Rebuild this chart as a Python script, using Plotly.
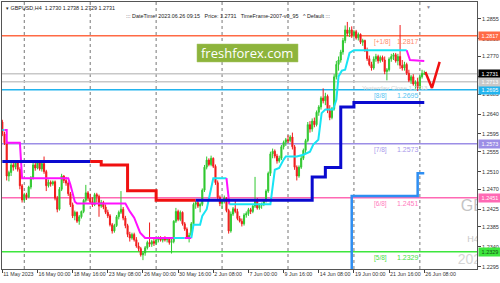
import plotly.graph_objects as go

# ---------------- data (GBPUSD H4, bar index 0 = 11 May 2023 08:00) ----------------
bar_open = [
    1.2622, 1.2595, 1.2575, 1.2500, 1.2508, 1.2525, 1.2520, 1.2530, 1.2515, 1.2478,
    1.2446, 1.2458, 1.2452, 1.2475, 1.2496, 1.2525, 1.2518, 1.2530, 1.2516, 1.2528,
    1.2510, 1.2478, 1.2486, 1.2482, 1.2487, 1.2450, 1.2425, 1.2470, 1.2500, 1.2490,
    1.2484, 1.2460, 1.2435, 1.2410, 1.2418, 1.2398, 1.2408, 1.2420, 1.2445, 1.2462,
    1.2450, 1.2442, 1.2435, 1.2458, 1.2454, 1.2432, 1.2440, 1.2430, 1.2418, 1.2410,
    1.2390, 1.2376, 1.2388, 1.2408, 1.2418, 1.2425, 1.2405, 1.2388, 1.2368, 1.2360,
    1.2368, 1.2356, 1.2342, 1.2336, 1.2322, 1.2326, 1.2338, 1.2350, 1.2346, 1.2352,
    1.2348, 1.2356, 1.2360, 1.2355, 1.2358, 1.2356, 1.2360, 1.2350, 1.2352, 1.2398,
    1.2420, 1.2402, 1.2418, 1.2392, 1.2380, 1.2362, 1.2366, 1.2392, 1.2436, 1.2440,
    1.2432, 1.2436, 1.2468, 1.2520, 1.2536, 1.2526, 1.2540, 1.2522, 1.2485, 1.2452,
    1.2438, 1.2444, 1.2450, 1.2422, 1.2376, 1.2414, 1.2426, 1.2420, 1.2404, 1.2398,
    1.2392, 1.2412, 1.2415, 1.2424, 1.2420, 1.2432, 1.2446, 1.2428, 1.2434, 1.2436,
    1.2446, 1.2466, 1.2506, 1.2550, 1.2556, 1.2545, 1.2534, 1.2540, 1.2566, 1.2576,
    1.2582, 1.2580, 1.2588, 1.2566, 1.2520, 1.2500, 1.2520, 1.2540, 1.2558, 1.2580,
    1.2616, 1.2606, 1.2624, 1.2616, 1.2644, 1.2656, 1.2676, 1.2670, 1.2680, 1.2648,
    1.2632, 1.2652, 1.2724, 1.2752, 1.2762, 1.2780, 1.2806, 1.2830, 1.2822, 1.2830,
    1.2818, 1.2826, 1.2812, 1.2820, 1.2802, 1.2806, 1.2784, 1.2765, 1.2752, 1.2744,
    1.2764, 1.2770, 1.2760, 1.2768, 1.2762, 1.2736, 1.2740, 1.2764, 1.2770, 1.2774,
    1.2760, 1.2770, 1.2750, 1.2744, 1.2752, 1.2732, 1.2716, 1.2724, 1.2708, 1.2712,
    1.2700, 1.2724, 1.2730,
]
bar_high = [
    1.2627, 1.2600, 1.2580, 1.2512, 1.2530, 1.2532, 1.2535, 1.2534, 1.2520, 1.2482,
    1.2462, 1.2462, 1.2478, 1.2500, 1.2530, 1.2532, 1.2534, 1.2533, 1.2532, 1.2544,
    1.2514, 1.2492, 1.2490, 1.2490, 1.2490, 1.2455, 1.2475, 1.2505, 1.2502, 1.2498,
    1.2488, 1.2464, 1.2440, 1.2422, 1.2420, 1.2412, 1.2422, 1.2448, 1.2480, 1.2466,
    1.2460, 1.2452, 1.2462, 1.2462, 1.2458, 1.2446, 1.2444, 1.2436, 1.2424, 1.2414,
    1.2394, 1.2392, 1.2412, 1.2422, 1.2466, 1.2430, 1.2410, 1.2392, 1.2374, 1.2372,
    1.2372, 1.2362, 1.2350, 1.2340, 1.2330, 1.2342, 1.2354, 1.2395, 1.2356, 1.2358,
    1.2360, 1.2364, 1.2364, 1.2360, 1.2364, 1.2362, 1.2362, 1.2358, 1.2400, 1.2428,
    1.2424, 1.2422, 1.2420, 1.2396, 1.2384, 1.2372, 1.2396, 1.2440, 1.2444, 1.2444,
    1.2440, 1.2472, 1.2525, 1.2544, 1.2540, 1.2546, 1.2542, 1.2526, 1.2490, 1.2456,
    1.2448, 1.2456, 1.2452, 1.2426, 1.2420, 1.2430, 1.2444, 1.2426, 1.2410, 1.2404,
    1.2416, 1.2420, 1.2428, 1.2428, 1.2436, 1.2498, 1.2450, 1.2438, 1.2440, 1.2448,
    1.2470, 1.2510, 1.2555, 1.2562, 1.2560, 1.2550, 1.2546, 1.2570, 1.2580, 1.2586,
    1.2592, 1.2592, 1.2598, 1.2570, 1.2524, 1.2524, 1.2546, 1.2562, 1.2584, 1.2622,
    1.2624, 1.2630, 1.2632, 1.2648, 1.2660, 1.2680, 1.2698, 1.2688, 1.2684, 1.2660,
    1.2656, 1.2730, 1.2760, 1.2770, 1.2785, 1.2812, 1.2840, 1.2848, 1.2836, 1.2838,
    1.2830, 1.2830, 1.2824, 1.2822, 1.2810, 1.2808, 1.2790, 1.2772, 1.2758, 1.2770,
    1.2776, 1.2774, 1.2772, 1.2772, 1.2770, 1.2744, 1.2768, 1.2776, 1.2778, 1.2778,
    1.2776, 1.2841, 1.2762, 1.2758, 1.2756, 1.2740, 1.2728, 1.2730, 1.2716, 1.2722,
    1.2728, 1.2740, 1.2738,
]
bar_low = [
    1.2590, 1.2570, 1.2490, 1.2488, 1.2500, 1.2512, 1.2515, 1.2510, 1.2470, 1.2440,
    1.2442, 1.2446, 1.2450, 1.2470, 1.2492, 1.2512, 1.2515, 1.2512, 1.2510, 1.2505,
    1.2466, 1.2474, 1.2476, 1.2478, 1.2445, 1.2418, 1.2422, 1.2466, 1.2484, 1.2478,
    1.2455, 1.2430, 1.2405, 1.2400, 1.2394, 1.2390, 1.2404, 1.2416, 1.2440, 1.2444,
    1.2438, 1.2430, 1.2432, 1.2440, 1.2408, 1.2428, 1.2425, 1.2414, 1.2405, 1.2386,
    1.2370, 1.2372, 1.2385, 1.2402, 1.2414, 1.2400, 1.2382, 1.2362, 1.2352, 1.2356,
    1.2352, 1.2338, 1.2330, 1.2318, 1.2310, 1.2320, 1.2334, 1.2340, 1.2340, 1.2342,
    1.2344, 1.2350, 1.2352, 1.2350, 1.2352, 1.2350, 1.2345, 1.2325, 1.2348, 1.2394,
    1.2398, 1.2398, 1.2388, 1.2376, 1.2358, 1.2350, 1.2362, 1.2388, 1.2426, 1.2428,
    1.2418, 1.2432, 1.2464, 1.2515, 1.2522, 1.2522, 1.2518, 1.2480, 1.2448, 1.2432,
    1.2426, 1.2438, 1.2418, 1.2370, 1.2372, 1.2410, 1.2416, 1.2400, 1.2395, 1.2386,
    1.2388, 1.2406, 1.2410, 1.2414, 1.2416, 1.2428, 1.2424, 1.2424, 1.2426, 1.2432,
    1.2440, 1.2462, 1.2500, 1.2540, 1.2540, 1.2528, 1.2530, 1.2536, 1.2560, 1.2568,
    1.2574, 1.2576, 1.2560, 1.2514, 1.2490, 1.2496, 1.2516, 1.2536, 1.2552, 1.2576,
    1.2598, 1.2600, 1.2610, 1.2612, 1.2636, 1.2650, 1.2664, 1.2660, 1.2642, 1.2626,
    1.2628, 1.2648, 1.2718, 1.2738, 1.2756, 1.2774, 1.2800, 1.2816, 1.2814, 1.2812,
    1.2812, 1.2808, 1.2806, 1.2798, 1.2794, 1.2780, 1.2760, 1.2748, 1.2738, 1.2740,
    1.2758, 1.2754, 1.2756, 1.2758, 1.2730, 1.2716, 1.2736, 1.2758, 1.2762, 1.2756,
    1.2750, 1.2742, 1.2738, 1.2738, 1.2728, 1.2712, 1.2708, 1.2704, 1.2694, 1.2692,
    1.2696, 1.2720, 1.2729,
]
bar_close = [
    1.2595, 1.2575, 1.2500, 1.2508, 1.2525, 1.2520, 1.2530, 1.2515, 1.2478, 1.2446,
    1.2458, 1.2452, 1.2475, 1.2496, 1.2525, 1.2518, 1.2530, 1.2516, 1.2528, 1.2510,
    1.2478, 1.2486, 1.2482, 1.2487, 1.2450, 1.2425, 1.2470, 1.2500, 1.2490, 1.2484,
    1.2460, 1.2435, 1.2410, 1.2418, 1.2398, 1.2408, 1.2420, 1.2445, 1.2462, 1.2450,
    1.2442, 1.2435, 1.2458, 1.2454, 1.2432, 1.2440, 1.2430, 1.2418, 1.2410, 1.2390,
    1.2376, 1.2388, 1.2408, 1.2418, 1.2425, 1.2405, 1.2388, 1.2368, 1.2360, 1.2368,
    1.2356, 1.2342, 1.2336, 1.2322, 1.2326, 1.2338, 1.2350, 1.2346, 1.2352, 1.2348,
    1.2356, 1.2360, 1.2355, 1.2358, 1.2356, 1.2360, 1.2350, 1.2352, 1.2398, 1.2420,
    1.2402, 1.2418, 1.2392, 1.2380, 1.2362, 1.2366, 1.2392, 1.2436, 1.2440, 1.2432,
    1.2436, 1.2468, 1.2520, 1.2536, 1.2526, 1.2540, 1.2522, 1.2485, 1.2452, 1.2438,
    1.2444, 1.2450, 1.2422, 1.2376, 1.2414, 1.2426, 1.2420, 1.2404, 1.2398, 1.2392,
    1.2412, 1.2415, 1.2424, 1.2420, 1.2432, 1.2446, 1.2428, 1.2434, 1.2436, 1.2446,
    1.2466, 1.2506, 1.2550, 1.2556, 1.2545, 1.2534, 1.2540, 1.2566, 1.2576, 1.2582,
    1.2580, 1.2588, 1.2566, 1.2520, 1.2500, 1.2520, 1.2540, 1.2558, 1.2580, 1.2616,
    1.2606, 1.2624, 1.2616, 1.2644, 1.2656, 1.2676, 1.2670, 1.2680, 1.2648, 1.2632,
    1.2652, 1.2724, 1.2752, 1.2762, 1.2780, 1.2806, 1.2830, 1.2822, 1.2830, 1.2818,
    1.2826, 1.2812, 1.2820, 1.2802, 1.2806, 1.2784, 1.2765, 1.2752, 1.2744, 1.2764,
    1.2770, 1.2760, 1.2768, 1.2762, 1.2736, 1.2740, 1.2764, 1.2770, 1.2774, 1.2760,
    1.2770, 1.2750, 1.2744, 1.2752, 1.2732, 1.2716, 1.2724, 1.2708, 1.2712, 1.2700,
    1.2724, 1.2732, 1.2731,
]
bar_index = list(range(len(bar_close)))

# x-axis labels (bar index -> label)
tick_bars = [0, 16, 32, 48, 64, 80, 96, 112, 128, 144, 160, 176, 192]
tick_text = ["11 May 2023", "16 May 00:00", "18 May 16:00", "23 May 08:00", "26 May 00:00",
             "30 May 16:00", "2 Jun 08:00", "7 Jun 00:00", "9 Jun 16:00", "14 Jun 08:00",
             "19 Jun 00:00", "21 Jun 16:00", "26 Jun 08:00"]
week_starts = [10, 40, 70, 100, 130, 160, 190]

# price axis labels
price_ticks = [1.2295, 1.2340, 1.2385, 1.2425, 1.2470, 1.2510, 1.2555, 1.2595,
               1.2640, 1.2685, 1.2725, 1.2770, 1.2810, 1.2855]

# Murrey math levels
level_names = ["[+1/8]", "[8/8]", "[7/8]", "[6/8]", "[5/8]"]
level_values = [1.2817, 1.2695, 1.2573, 1.2451, 1.2329]
level_colors = ["#FF6A45", "#22B4EE", "#9C8EE6", "#FF69B4", "#3DE63D"]
level_text_colors = ["#FF8A6A", "#55C4F2", "#A898EA", "#FF7CBE", "#44E044"]
level_box_text = ["white", "white", "white", "white", "#145214"]

bid_price = 1.2731
yesterday_close = 1.2713

# stepped trend line (thick): blue = up, red = down
trend_up1_x = [0, 40]
trend_up1_y = [1.2533, 1.2533]
trend_dn_x = [40, 45, 57, 70, 88]
trend_dn_y = [1.2533, 1.2525, 1.2467, 1.2445, 1.2445]
trend_up2_x = [88, 141, 147, 154, 160, 192]
trend_up2_y = [1.2445, 1.2498, 1.2519, 1.2656, 1.2666, 1.2666]

# light-blue step line
lb_x = [159, 159, 189, 189, 192]
lb_y = [1.2150, 1.2455, 1.2455, 1.2506, 1.2506]

# trailing stop line: cyan (up) / magenta (down) segments
ts_segments = [
    ("up", [0, 1], [1.2604, 1.2604]),
    ("dn", [1, 2, 2, 8, 9, 30, 31, 33, 34, 56, 58, 60, 62.7, 65, 78],
           [1.2604, 1.2604, 1.2575, 1.2575, 1.2495, 1.2495, 1.2480, 1.2442, 1.2438, 1.2438,
            1.2420, 1.2406, 1.2372, 1.2360, 1.2360]),
    ("up", [78, 83], [1.2360, 1.2360]),
    ("dn", [83, 86], [1.2360, 1.2360]),
    ("up", [86, 87, 90, 91, 93, 96, 102],
           [1.2360, 1.2390, 1.2390, 1.2410, 1.2425, 1.2495, 1.2495]),
    ("dn", [102, 103.3], [1.2495, 1.2436]),
    ("up", [103.3, 122, 124, 126, 128, 129, 134, 137, 140, 141.5, 143.8, 145.3, 147, 150.5,
            152, 153, 154.5, 156, 158, 160, 184],
           [1.2436, 1.2436, 1.2514, 1.2518, 1.2537, 1.2544, 1.2544, 1.2548, 1.2555, 1.2571,
            1.2582, 1.2642, 1.2650, 1.2650, 1.2672, 1.2725, 1.2738, 1.2740, 1.2778, 1.2784,
            1.2784]),
    ("dn", [184, 185.5, 192], [1.2784, 1.2762, 1.2760]),
]

# forecast zig-zag
fc_x = [192.5, 195.5, 199.0]
fc_y = [1.2735, 1.2699, 1.2758]

# ---------------- figure ----------------
fig = go.Figure()

fig.add_trace(go.Candlestick(
    x=bar_index, open=bar_open, high=bar_high, low=bar_low, close=bar_close,
    increasing=dict(line=dict(color="#30C830", width=1), fillcolor="#30C830"),
    decreasing=dict(line=dict(color="#F01C1C", width=1), fillcolor="#F01C1C"),
    whiskerwidth=0, showlegend=False, hoverinfo="skip"))

for kind, xs, ys in ts_segments:
    fig.add_trace(go.Scatter(x=xs, y=ys, mode="lines",
                             line=dict(color="#18E4F4" if kind == "up" else "#FF10FF", width=2),
                             showlegend=False, hoverinfo="skip"))

fig.add_trace(go.Scatter(x=lb_x, y=lb_y, mode="lines",
                         line=dict(color="#2E8EF2", width=2.5), showlegend=False, hoverinfo="skip"))

for xs, ys, col in [(trend_up1_x, trend_up1_y, "#0A0ACF"),
                    (trend_dn_x, trend_dn_y, "#F01010"),
                    (trend_up2_x, trend_up2_y, "#0A0ACF")]:
    fig.add_trace(go.Scatter(x=xs, y=ys, mode="lines", line=dict(color=col, width=3, shape="hv"),
                             showlegend=False, hoverinfo="skip"))

fig.add_trace(go.Scatter(x=fc_x, y=fc_y, mode="lines", line=dict(color="#F01010", width=2.5),
                         showlegend=False, hoverinfo="skip"))

# clipped watermark texts at lower right
fig.add_trace(go.Scatter(x=[208.6], y=[1.2430], mode="text", text=["GBPUSD"],
                         textposition="middle right", cliponaxis=True,
                         textfont=dict(size=16, color="#C4C4C4", family="Liberation Sans"),
                         showlegend=False, hoverinfo="skip"))
fig.add_trace(go.Scatter(x=[211.6], y=[1.2357], mode="text", text=["H4"],
                         textposition="middle right", cliponaxis=True,
                         textfont=dict(size=9, color="#C8C8C8", family="Liberation Sans"),
                         showlegend=False, hoverinfo="skip"))
fig.add_trace(go.Scatter(x=[207.2], y=[1.2310], mode="text", text=["2023.06.26"],
                         textposition="middle right", cliponaxis=True,
                         textfont=dict(size=14, color="#D6D6D6", family="Liberation Sans"),
                         showlegend=False, hoverinfo="skip"))

shapes = []
annotations = []

# weekly separators
for wb in week_starts:
    shapes.append(dict(type="line", xref="x", yref="paper", x0=wb, x1=wb, y0=0, y1=1,
                       line=dict(color="#777777", width=1, dash="dot"), layer="below"))

# gray lines
for pv in [bid_price, yesterday_close]:
    shapes.append(dict(type="line", xref="paper", yref="y", x0=0, x1=1, y0=pv, y1=pv,
                       line=dict(color="#C8C8C8", width=1.5), layer="below"))

# level lines and labels
for name, val, col, tcol, btxt in zip(level_names, level_values, level_colors,
                                      level_text_colors, level_box_text):
    shapes.append(dict(type="line", xref="paper", yref="y", x0=0, x1=1, y0=val, y1=val,
                       line=dict(color=col, width=1.5), layer="below"))
    annotations.append(dict(x=168.3, y=val, xref="x", yref="y", text=name, showarrow=False,
                            xanchor="left", yanchor="top", yshift=0,
                            font=dict(size=6.5, color=tcol, family="Liberation Sans")))
    annotations.append(dict(x=178.8, y=val, xref="x", yref="y", text=f"{val:.4f}",
                            showarrow=False, xanchor="left", yanchor="top", yshift=0,
                            font=dict(size=7, color=tcol, family="Liberation Sans")))
    annotations.append(dict(x=1, y=val, xref="paper", yref="y", text=f"{val:.4f}",
                            showarrow=False, xanchor="left", xshift=1, width=22, height=8,
                            bgcolor=col, borderpad=0,
                            font=dict(size=5.5, color=btxt, family="Liberation Sans")))

annotations.append(dict(x=1, y=bid_price, xref="paper", yref="y", text=f"{bid_price:.4f}",
                        showarrow=False, xanchor="left", xshift=1, width=22, height=8,
                        bgcolor="#000000", borderpad=0,
                        font=dict(size=5.5, color="white", family="Liberation Sans")))
annotations.append(dict(x=1, y=yesterday_close, xref="paper", yref="y",
                        text=f"{yesterday_close:.4f}", showarrow=False, xanchor="left",
                        xshift=1, width=22, height=8, bgcolor="#C8C8C8", borderpad=0,
                        font=dict(size=5.5, color="white", family="Liberation Sans")))
annotations.append(dict(x=162.6, y=yesterday_close, xref="x", yref="y",
                        text=f"Yesterday Close {yesterday_close:.4f}", showarrow=False,
                        xanchor="left", yanchor="top",
                        font=dict(size=6.2, color="#CFCFCF", family="Liberation Sans")))

# header texts
annotations.append(dict(x=0.004, y=0.997, xref="paper", yref="paper",
                        text="▾ GBPUSD,H4  1.2730 1.2738 1.2729 1.2731", showarrow=False,
                        xanchor="left", yanchor="top",
                        font=dict(size=5.4, color="#222222", family="Liberation Sans")))
annotations.append(dict(x=0.256, y=0.968, xref="paper", yref="paper",
                        text="::: DateTime: 2023.06.26 09:15   Price: 1.2731   TimeFrame-2007-v0_95   ^ Default :::",
                        showarrow=False, xanchor="left", yanchor="top",
                        font=dict(size=5.4, color="#222222", family="Liberation Sans")))

# freshforex logo
shapes.append(dict(type="rect", xref="paper", yref="paper", x0=0.4105, x1=0.6232,
                   y0=0.7753, y1=0.8427, fillcolor="#8DB43C",
                   line=dict(color="#A8C86A", width=0.5), layer="above"))
annotations.append(dict(x=0.5168, y=0.809, xref="paper", yref="paper", text="freshforex.com",
                        showarrow=False, xanchor="center", yanchor="middle",
                        font=dict(size=13, color="white", family="Open Sans")))

# chart shift marker
annotations.append(dict(x=0.897, y=1.0, xref="paper", yref="paper", text="▼",
                        showarrow=False, xanchor="center", yanchor="top",
                        font=dict(size=5, color="#8A8A9A")))

fig.update_layout(
    width=500, height=283,
    margin=dict(l=2, r=23, t=2, b=14),
    paper_bgcolor="white", plot_bgcolor="white",
    showlegend=False,
    shapes=shapes, annotations=annotations,
    xaxis=dict(range=[-0.14, 216.0], tickmode="array", tickvals=tick_bars, ticktext=tick_text,
               tickangle=0,
               ticks="outside", ticklen=3, tickcolor="#444", ticklabelposition="outside right",
               tickfont=dict(size=5.3, color="#333333", family="Liberation Sans"),
               showgrid=False, zeroline=False, showline=True, linecolor="#555555",
               linewidth=1, mirror=True, rangeslider=dict(visible=False), automargin=False,
               fixedrange=True),
    yaxis=dict(range=[1.2290, 1.2893], side="right", tickmode="array", tickvals=price_ticks,
               ticktext=[f"{v:.4f}" for v in price_ticks],
               ticks="outside", ticklen=3, tickcolor="#444",
               tickfont=dict(size=5.5, color="#333333", family="Liberation Sans"),
               showgrid=False, zeroline=False, showline=True, linecolor="#555555",
               linewidth=1, mirror=True, automargin=False, fixedrange=True),
)

fig.write_html("out.html")
